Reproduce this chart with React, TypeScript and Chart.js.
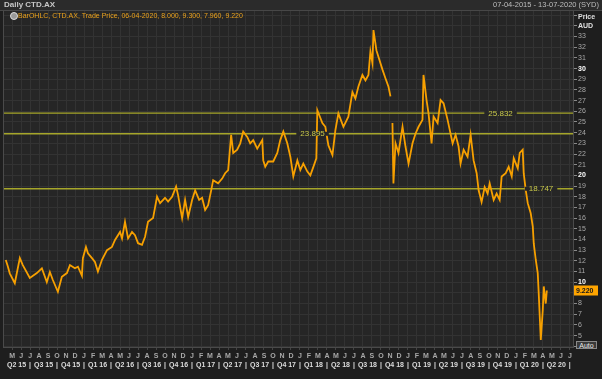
import React, { useEffect, useRef } from "react";
import { Chart, registerables } from "chart.js";

Chart.register(...registerables);

// x = months since 1 May 2015 (0 = May 2015, 12 = May 2016, ...)
const monthPos: number[] = [
  -0.7, -0.48, -0.26, 0.3, 0.86, 1.19, 1.97, 2.75, 3.31, 3.86, 4.2, 4.53, 5.09, 5.53, 6.09, 6.43, 6.98, 7.32, 7.76, 7.87,
  8.21, 8.43, 8.88, 9.21, 9.54, 9.99, 10.55, 11.1, 11.44, 12.0, 12.22, 12.55, 12.89, 13.33, 13.66, 14.0, 14.44, 14.78, 15.11, 15.67,
  16.11, 16.45, 17.0, 17.34, 17.78, 18.23, 18.45, 18.9, 19.23, 19.57, 20.01, 20.35, 20.79, 21.12, 21.46, 21.79, 22.13, 22.35, 22.9, 23.35,
  23.68, 24.02, 24.35, 24.58, 25.02, 25.36, 25.69, 26.14, 26.47, 26.8, 27.25, 27.81, 27.92, 28.14, 28.47, 29.03, 29.48, 29.81, 30.15, 30.59,
  30.93, 31.26, 31.71, 32.04, 32.37, 32.82, 33.15, 33.49, 33.82, 33.93, 34.49, 34.82, 35.16, 35.61, 35.94, 36.27, 36.83, 37.38, 37.83, 38.16,
  38.49, 38.94, 39.28, 39.61, 39.83, 40.06, 40.17, 40.5, 40.72, 41.17, 41.5, 41.84, 42.06, 42.17, 42.28, 42.39, 42.62, 42.95, 43.4, 43.73,
  44.07, 44.51, 44.84, 45.18, 45.62, 45.73, 46.07, 46.29, 46.63, 46.85, 47.3, 47.63, 47.96, 48.41, 48.97, 49.3, 49.63, 49.85, 50.19, 50.63,
  50.97, 51.3, 51.64, 51.86, 52.19, 52.53, 52.86, 53.09, 53.53, 53.86, 54.2, 54.42, 54.87, 55.2, 55.54, 55.76, 56.21, 56.43, 56.76, 56.87,
  57.1, 57.32, 57.65, 57.88, 57.99, 58.21, 58.43, 58.54, 58.77, 58.99, 59.1, 59.32, 59.44,
];

// traded price (AUD); null marks the trading halt gap in Oct 2018
const closePrice: (number | null)[] = [
  12.07, 11.5, 10.83, 9.9, 12.26, 11.6, 10.4, 10.85, 11.3, 10.0, 10.95, 10.2, 9.1, 10.5, 10.85, 11.6, 11.3, 11.45, 10.6, 12.25,
  13.3, 12.7, 12.25, 11.9, 11.0, 12.1, 13.0, 13.3, 13.95, 14.7, 14.1, 15.65, 14.1, 14.7, 14.4, 13.65, 13.5, 14.25, 15.65, 16.0,
  18.0, 17.4, 17.9, 17.55, 18.0, 18.95, 18.15, 16.0, 17.7, 16.1, 17.7, 18.6, 17.7, 17.9, 16.75, 17.2, 18.6, 19.55, 19.25, 19.7,
  20.2, 20.5, 23.8, 22.1, 22.4, 23.0, 24.1, 23.6, 23.0, 23.3, 22.5, 23.3, 21.4, 20.8, 21.3, 21.3, 22.1, 23.3, 24.1, 23.0,
  21.75, 19.9, 21.4, 20.5, 21.1, 20.35, 20.0, 20.8, 21.6, 26.1, 24.9, 24.55, 22.8, 21.9, 24.25, 25.8, 24.55, 25.5, 27.8, 27.2,
  28.3, 29.4, 28.9, 29.4, 31.6, 30.5, 33.6, 31.7, 31.1, 29.9, 29.1, 28.3, 27.4, null, 24.9, 19.25, 23.0, 22.1, 24.55, 22.7,
  21.1, 23.0, 23.9, 24.55, 25.2, 29.4, 27.05, 25.8, 23.0, 25.5, 24.9, 27.05, 26.75, 25.2, 23.0, 23.8, 22.7, 21.1, 22.4, 21.75,
  23.8, 21.4, 20.2, 18.6, 17.5, 18.9, 18.3, 19.25, 17.7, 18.3, 17.7, 19.9, 20.2, 20.8, 19.9, 21.6, 20.65, 22.1, 22.4, 20.2,
  18.6, 17.4, 16.45, 15.2, 13.6, 12.1, 10.85, 8.95, 4.6, 7.4, 9.6, 8.0, 9.22,
];

const levelValues: number[] = [25.832, 23.895, 18.747];
const levelLabelAt: number[] = [54.3, 33.4, 58.8];
const lastPrice = 9.22;

const monthLetters = "JFMAMJJASOND";
const firstMonthOfYear = 4; // May
const firstYear = 2015;
const monthTickValues: number[] = Array.from({ length: 63 }, (_, i) => i);
const quarterBoundaries: number[] = Array.from({ length: 21 }, (_, i) => 2 + i * 3);
const quarterCenters: number[] = Array.from({ length: 21 }, (_, i) => 0.5 + i * 3);
const priceTickValues: number[] = Array.from({ length: 32 }, (_, i) => 4 + i);

const titleText = "Daily CTD.AX";
const rangeText = "07-04-2015 - 13-07-2020 (SYD)";
const legendText = "BarOHLC, CTD.AX, Trade Price, 06-04-2020, 8.000, 9.300, 7.960, 9.220";

const X_MIN = -0.9;
const X_MAX = 62.35;
const Y_MIN = 3.93;
const Y_MAX = 35.39;

const FONT = '"Liberation Sans", "DejaVu Sans", sans-serif';

function quarterLabel(c: number): string {
  const abs = firstMonthOfYear + Math.floor(c);
  const mon = abs % 12;
  const yr = firstYear + Math.floor(abs / 12);
  return "Q" + (Math.floor(mon / 3) + 1) + " " + String(yr).slice(2);
}

const quarterTicks = [
  ...quarterBoundaries.map((v) => ({ value: v, label: "|" })),
  ...quarterCenters.map((v) => ({ value: v, label: quarterLabel(v) })),
].sort((a, b) => a.value - b.value);

export default function App() {
  const ref = useRef<HTMLCanvasElement>(null);

  useEffect(() => {
    const canvas = ref.current!;
    const bgPlugin = {
      id: "bg",
      beforeDraw(chart: any) {
        const { ctx, chartArea } = chart;
        ctx.save();
        ctx.fillStyle = "#1e1e1e";
        ctx.fillRect(0, 0, chart.width, chart.height);
        ctx.fillStyle = "#262626";
        ctx.fillRect(chartArea.left, chartArea.top, chartArea.right - chartArea.left, chartArea.bottom - chartArea.top);
        ctx.restore();
      },
      afterDraw(chart: any) {
        const { ctx, chartArea, scales } = chart;
        const xs = scales.x;
        const ys = scales.y;
        ctx.save();
        ctx.strokeStyle = "#4a4a4a";
        ctx.lineWidth = 1;
        ctx.strokeRect(chartArea.left - 0.5, chartArea.top - 0.5, chartArea.right - chartArea.left + 1, chartArea.bottom - chartArea.top + 1);
        ctx.font = "8px " + FONT;
        ctx.textAlign = "center";
        ctx.textBaseline = "middle";
        levelValues.forEach((v, i) => {
          const x = xs.getPixelForValue(levelLabelAt[i]);
          const y = ys.getPixelForValue(v);
          const t = v.toFixed(3);
          const w = ctx.measureText(t).width + 8;
          ctx.fillStyle = "#262626";
          ctx.fillRect(x - w / 2, y - 2, w, 4);
          ctx.fillStyle = "#c9c94a";
          ctx.fillText(t, x, y + 0.5);
        });
        const py = ys.getPixelForValue(lastPrice);
        ctx.fillStyle = "#ffa500";
        ctx.fillRect(chartArea.right + 1, py - 5, 24, 10);
        ctx.fillStyle = "#1a1a1a";
        ctx.font = "bold 7px " + FONT;
        ctx.textAlign = "left";
        ctx.fillText(lastPrice.toFixed(3), chartArea.right + 3, py + 0.5);
        ctx.restore();
      },
    };

    const chart = new Chart(canvas, {
      type: "line",
      data: {
        datasets: [
          {
            data: monthPos.map((m, i) => ({ x: m, y: closePrice[i] })) as any,
            borderColor: "#f7a000",
            borderWidth: 1.8,
            pointRadius: 0,
            tension: 0,
            spanGaps: false,
          },
          ...levelValues.map((v) => ({
            data: [
              { x: X_MIN, y: v },
              { x: X_MAX, y: v },
            ],
            borderColor: "#a6a62a",
            borderWidth: 1.4,
            pointRadius: 0,
          })),
        ],
      },
      options: {
        animation: false,
        responsive: false,
        maintainAspectRatio: false,
        layout: { padding: { left: 4, top: 11, right: 0, bottom: 0 } },
        plugins: { legend: { display: false }, tooltip: { enabled: false } },
        scales: {
          x: {
            type: "linear",
            position: "bottom",
            min: X_MIN,
            max: X_MAX,
            weight: 0,
            afterBuildTicks: (s: any) => {
              s.ticks = monthTickValues.map((v) => ({ value: v }));
            },
            afterFit: (s: any) => {
              s.height = 13;
            },
            ticks: {
              autoSkip: false,
              maxRotation: 0,
              padding: 2,
              color: "#a8a8a8",
              font: { family: FONT, size: 7, weight: "bold" },
              callback: (v: any) => monthLetters[(firstMonthOfYear + Number(v)) % 12],
            },
            grid: { color: "#333333", tickLength: 3, tickColor: "#444444" },
            border: { color: "#4a4a4a" },
          },
          xq: {
            type: "linear",
            position: "bottom",
            min: X_MIN,
            max: X_MAX,
            weight: 1,
            afterBuildTicks: (s: any) => {
              s.ticks = quarterTicks.map((t) => ({ value: t.value }));
            },
            afterFit: (s: any) => {
              s.height = 19;
            },
            ticks: {
              autoSkip: false,
              maxRotation: 0,
              padding: 1,
              color: "#dcdcdc",
              font: { family: FONT, size: 7, weight: "bold" },
              callback: (_v: any, i: number) => quarterTicks[i].label,
            },
            grid: { display: false, drawTicks: false },
            border: { display: false },
          },
          y: {
            type: "linear",
            position: "right",
            min: Y_MIN,
            max: Y_MAX,
            afterBuildTicks: (s: any) => {
              s.ticks = priceTickValues.map((v) => ({ value: v }));
            },
            afterFit: (s: any) => {
              s.width = 29;
            },
            ticks: {
              autoSkip: false,
              padding: 1,
              color: (c: any) => (c.tick && c.tick.value % 10 === 0 ? "#ffffff" : "#a8a8a8"),
              font: (c: any) => ({
                family: FONT,
                size: 7,
                weight: c.tick && c.tick.value % 10 === 0 ? "bold" : "normal",
              }),
              callback: (v: any) => (Number(v) >= 5 && Number(v) <= 33 ? String(v) : ""),
            },
            grid: { color: "#333333", tickLength: 4, tickColor: "#8a8a8a" },
            border: { color: "#5a5a5a" },
          },
        },
      } as any,
      plugins: [bgPlugin],
    });
    return () => chart.destroy();
  }, []);

  const small: React.CSSProperties = { position: "absolute", fontFamily: FONT, whiteSpace: "nowrap", lineHeight: "1" };

  return (
    <div style={{ position: "fixed", left: 0, top: 0, width: 602, height: 379, overflow: "hidden", background: "#1e1e1e" }}>
      <canvas ref={ref} width={602} height={379} style={{ position: "absolute", left: 0, top: 0, width: 602, height: 379 }} />
      <div style={{ position: "absolute", left: 0, top: 0, width: 602, height: 10, background: "#2b2b2b", borderBottom: "1px solid #474747" }} />
      <div style={{ ...small, left: 4, top: 1, fontSize: 8, fontWeight: "bold", color: "#c8c8c8" }}>{titleText}</div>
      <div style={{ ...small, right: 3, top: 1, fontSize: 7.5, color: "#bdbdbd" }}>{rangeText}</div>
      <div style={{ position: "absolute", left: 10, top: 12, width: 6, height: 6, borderRadius: 4, background: "#9a9a9a", border: "1px solid #dddddd" }} />
      <div style={{ ...small, left: 18, top: 12, fontSize: 7, color: "#eba21c" }}>{legendText}</div>
      <div style={{ ...small, left: 578, top: 13, fontSize: 7, fontWeight: "bold", color: "#e0e0e0" }}>Price</div>
      <div style={{ ...small, left: 578, top: 22, fontSize: 7, fontWeight: "bold", color: "#e0e0e0" }}>AUD</div>
      <div
        style={{
          ...small,
          left: 576,
          top: 341,
          width: 21,
          height: 8,
          fontSize: 7,
          color: "#e8e8e8",
          background: "#3a3a3a",
          border: "1px solid #8a8a8a",
          textAlign: "center",
          boxSizing: "border-box",
          lineHeight: "7px",
        }}
      >
        Auto
      </div>
    </div>
  );
}
